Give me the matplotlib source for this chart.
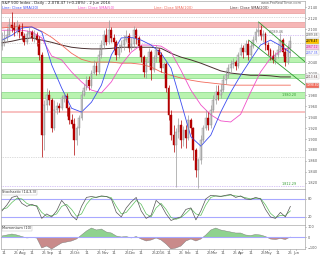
import matplotlib
matplotlib.use("Agg")
import matplotlib.pyplot as plt
import numpy as np
import pandas as pd

# one candle ~ two sessions, oldest first
first_open = 2070
close = [2076, 2084, 2089, 2107, 2102, 2098, 2105, 2095, 2087, 2076,
         2091, 2095, 2084, 2089, 2080, 2053, 1907, 1962, 1980, 1971,
         1920, 1953, 1960, 1956, 1975, 1978, 1956, 1935, 1927, 1898,
         1920, 1938, 1980, 1993, 2007, 1996, 2020, 2033, 2022, 2053,
         2071, 2089, 2076, 2098, 2084, 2076, 2053, 2065, 2071, 2080,
         2087, 2065, 2073, 2098, 2084, 2069, 2049, 2022, 2040, 2058,
         2025, 2047, 2062, 2053, 2029, 2036, 1993, 1944, 1907, 1889,
         1913, 1925, 1898, 1916, 1902, 1935, 1920, 1880, 1844, 1862,
         1898, 1920, 1938, 1925, 1953, 1971, 1985, 1980, 1989, 2007,
         2016, 2029, 2036, 2040, 2033, 2053, 2065, 2058, 2073, 2053,
         2069, 2080, 2095, 2098, 2087, 2091, 2071, 2062, 2051, 2044,
         2053, 2062, 2080, 2058, 2040, 2065, 2078]
high = [2095, 2098, 2102, 2120, 2131, 2113, 2116, 2109, 2111, 2093,
        2098, 2104, 2098, 2098, 2095, 2087, 2058, 1971, 1993, 1989,
        1975, 1971, 1967, 1965, 1980, 1984, 1984, 1960, 1945, 1938,
        1924, 1944, 1989, 2000, 2015, 2015, 2025, 2044, 2040, 2062,
        2080, 2098, 2102, 2116, 2104, 2091, 2080, 2073, 2080, 2089,
        2098, 2093, 2085, 2105, 2102, 2087, 2071, 2053, 2047, 2065,
        2062, 2053, 2071, 2065, 2058, 2040, 2040, 1998, 1953, 1925,
        1920, 1938, 1935, 1924, 1925, 1944, 1938, 1922, 1884, 1865,
        1907, 1925, 1953, 1949, 1962, 1980, 1998, 1998, 2000, 2016,
        2025, 2036, 2044, 2047, 2044, 2058, 2073, 2071, 2080, 2080,
        2076, 2087, 2102, 2113, 2107, 2098, 2095, 2076, 2065, 2062,
        2058, 2071, 2093, 2084, 2065, 2073, 2087]
low = [2062, 2069, 2076, 2087, 2095, 2087, 2091, 2084, 2080, 2071,
       2073, 2084, 2078, 2076, 2069, 2044, 1867, 1880, 1953, 1962,
       1913, 1916, 1945, 1949, 1953, 1967, 1942, 1927, 1920, 1871,
       1889, 1907, 1935, 1978, 1989, 1989, 1993, 2018, 2016, 2018,
       2047, 2065, 2071, 2073, 2076, 2062, 2044, 2047, 2058, 2062,
       2076, 2058, 2062, 2065, 2073, 2062, 2040, 2013, 2011, 2033,
       2007, 2022, 2040, 2040, 2022, 2011, 1985, 1935, 1898, 1876,
       1813, 1902, 1884, 1887, 1884, 1898, 1909, 1862, 1831, 1811,
       1855, 1894, 1916, 1916, 1920, 1949, 1964, 1971, 1975, 1985,
       2000, 2011, 2022, 2029, 2025, 2029, 2051, 2047, 2053, 2044,
       2047, 2065, 2076, 2087, 2080, 2076, 2062, 2053, 2044, 2038,
       2036, 2047, 2058, 2051, 2033, 2036, 2049]

# moving averages, read every 4th candle
sma20 = [2080, 2089, 2102, 2104, 2095, 2035, 1993, 1956, 1949, 1967,
         1998, 2053, 2084, 2085, 2080, 2071, 2056, 2029, 1967, 1904,
         1887, 1907, 1949, 1985, 2016, 2044, 2071, 2080, 2070, 2057]
sma50 = [2098, 2098, 2098, 2095, 2084, 2051, 2044, 2022, 2004, 1989,
         1984, 2004, 2035, 2058, 2071, 2071, 2069, 2058, 2025, 1989,
         1962, 1944, 1933, 1931, 1945, 1985, 2022, 2047, 2060, 2067]
sma100 = [2102, 2104, 2105, 2104, 2096, 2085, 2071, 2056, 2045, 2040,
          2040, 2040, 2038, 2038, 2036, 2031, 2022, 2016, 2011, 2007,
          2004, 2002, 2000, 1998, 1998, 1998, 1998, 1998, 1998, 1998]
sma200 = [2075, 2078, 2082, 2084, 2080, 2076, 2071, 2067, 2065, 2064,
          2064, 2065, 2067, 2067, 2067, 2067, 2065, 2056, 2049, 2044,
          2038, 2031, 2024, 2020, 2018, 2016, 2016, 2015, 2013, 2013]

# oscillators, read every 2nd candle
stoch_k = [40, 60, 85, 90, 65, 55, 62, 55, 15, 30, 20, 40, 75, 55, 25, 10, 55, 85, 88, 85,
           90, 88, 80, 35, 20, 50, 70, 85, 40, 15, 25, 75, 60, 30, 8, 15, 20, 45, 50, 10,
           40, 80, 92, 90, 88, 92, 95, 85, 90, 80, 78, 85, 80, 45, 20, 15, 35, 20, 55]
stoch_d = [45, 50, 68, 82, 80, 65, 58, 58, 35, 22, 24, 30, 55, 62, 45, 22, 30, 62, 82, 86,
           88, 88, 84, 55, 30, 35, 55, 75, 62, 30, 20, 50, 65, 45, 18, 12, 18, 32, 48, 30,
           25, 60, 85, 90, 89, 90, 93, 90, 88, 84, 80, 82, 82, 60, 32, 18, 25, 25, 40]
momentum = [10, 20, 30, 20, 5, -10, -5, -10, -110, -90, -120, -90, -60, -50, -40, -20, 20, 60, 90, 70,
            80, 50, 40, 10, 0, 5, -10, 5, -20, -40, -30, -10, -30, -70, -120, -110, -90, -40, -20, -40,
            -20, 20, 70, 90, 70, 60, 50, 40, 40, 20, 15, 25, 20, 5, -20, -25, -15, -25, 0]

res_zones = [(2129, 2136), (2104, 2113)]
sup_zones = [(2040, 2049), (2011, 2018), (1975, 1985)]
thin_zone = (1947.5, 1950.5)
grey_levels = [2122, 2075, 1867]
violet_levels = [2089, 1815]
channel_upper = ([103.2, 122], [2113, 2040])
channel_lower = ([99.2, 122], [2080, 1998])

price_ticks = [1820, 1840, 1860, 1880, 1900, 1920, 1940, 1960, 1980,
               2020, 2040, 2100, 2120, 2140]

title = "S&P 500 Index - Daily - 2,078.47 (+0.28%) - 2 Jun 2016"


def day_to_x(d):
    return -2.8 + 0.3607 * (d - pd.Timestamp("2015-07-01")).days


o = np.array([first_open] + close[:-1], dtype=float)
c = np.array(close, dtype=float)
h = np.array(high, dtype=float)
l = np.array(low, dtype=float)
x = np.arange(len(c))
up = c >= o
ma_x = np.arange(0, len(c), 4)
osc_x = np.arange(0, len(c), 2)

fig = plt.figure(figsize=(3.2, 2.56), dpi=100)
W = 0.951
ax = fig.add_axes([0.003, 0.2617, W, 0.734])
ax_s = fig.add_axes([0.003, 0.1211, W, 0.1406], sharex=ax)
ax_m = fig.add_axes([0.003, 0.0273, W, 0.0938], sharex=ax)

for a in (ax, ax_s, ax_m):
    a.yaxis.tick_right()
    a.tick_params(labelsize=2.5, length=1, width=0.4, pad=0.6, colors="#555555")
    for s in a.spines.values():
        s.set_color("#aaaaaa")
        s.set_linewidth(0.5)

# zones and levels
for lo_, hi_ in res_zones:
    ax.axhspan(lo_, hi_, facecolor="#f6b6b6", edgecolor="#e38b8b", lw=0.4)
for lo_, hi_ in sup_zones:
    ax.axhspan(lo_, hi_, facecolor="#b9f3b0", edgecolor="#6dcf6d", lw=0.4)
ax.axhspan(*thin_zone, facecolor="#f8c2c2", edgecolor="none")
for lv in grey_levels:
    ax.axhline(lv, color="#bbbbbb", ls=(0, (1, 1.5)), lw=0.5)
for lv in violet_levels:
    ax.axhline(lv, color="#b48cf0", ls=(0, (1, 1.5)), lw=0.5)

# moving averages
ax.plot(ma_x, sma200, color="#4a3030", lw=0.7)
ax.plot(ma_x, sma100, color="#f26a5a", lw=0.6)
ax.plot(ma_x, sma50, color="#f050c8", lw=0.6)
ax.plot(ma_x, sma20, color="#3d4df0", lw=0.6)

# candles
ax.vlines(x, l, h, colors=np.where(up, "#9a9a9a", "#b00000"), lw=0.5)
ax.bar(x, np.maximum(np.abs(c - o), 0.8), bottom=np.minimum(o, c), width=0.75,
       color=np.where(up, "#dcdcdc", "#b80000"),
       edgecolor=np.where(up, "#8c8c8c", "#b00000"), linewidth=0.3)

ax.plot(*channel_upper, color="#2f9a2f", lw=0.6)
ax.plot(*channel_lower, color="#2f9a2f", lw=0.6)

ax.set_ylim(1809, 2151)
ax.set_yticks(price_ticks)
ax.set_yticklabels([f"{v:,}" for v in price_ticks])
ax.tick_params(labelbottom=False, bottom=False)

# header
ax.text(0.004, 0.998, title, transform=ax.transAxes, fontsize=2.8, va="top", color="#222222")
ax.text(0.99, 0.998, "www.ProRealTime.com", transform=ax.transAxes, fontsize=2.6,
        va="top", ha="right", color="#666666")
heads = [("Close SMA(20)", "#3d4df0"), ("Close SMA(50)", "#f050c8"),
         ("Close SMA(100)", "#f26a5a"), ("Close SMA(200)", "#4a3030")]
for k, (t, col) in enumerate(heads):
    ax.text(0.004 + k * 0.25, 0.975, "Line: " + t, transform=ax.transAxes, fontsize=2.6,
            va="top", color=col)

# value tags on the right axis
yt = ax.get_yaxis_transform()
tags = [(2089, "2089.46", "white", "#555555"),
        (close[-1], f"{close[-1]}.47", "#ffc400", "black"),
        (sma50[-1], f"{sma50[-1]}.12", "#f8c6ec", "#d0209a"),
        (sma20[-1], f"{sma20[-1]}.35", "white", "#3d4df0"),
        (sma200[-1], f"{sma200[-1]}.64", "white", "#4a3030"),
        (sma100[-1], f"{sma100[-1]}.80", "#f26a5a", "white")]
for v, t, bg, fg in tags:
    ax.text(1.003, v, t, transform=yt, fontsize=2.2, va="center", color=fg,
            bbox=dict(facecolor=bg, edgecolor="#bbbbbb", lw=0.3, pad=0.35))
ax.text(0.97, 1980, "1,980.20", transform=yt, fontsize=2.4, ha="right", va="center", color="#2f9a2f")
ax.text(0.93, 2092, "2,089.46", transform=yt, fontsize=2.4, ha="right", va="bottom", color="#666666")
ax.text(0.97, 1815, "1,812.29", transform=yt, fontsize=2.4, ha="right", va="bottom", color="#2f9a2f")

# stochastic
ax_s.axhline(80, color="#a8a8ff", lw=0.8)
ax_s.axhline(20, color="#a8a8ff", lw=0.8)
ax_s.plot(osc_x, stoch_d, color="#5cbf5c", lw=0.5)
ax_s.plot(osc_x, stoch_k, color="#555555", lw=0.5)
ax_s.set_ylim(-7, 113)
ax_s.set_yticks([20, 80])
ax_s.tick_params(labelbottom=False, bottom=False)
ax_s.text(0.004, 0.97, "Stochastic (14,3,3)", transform=ax_s.transAxes, fontsize=2.6, va="top",
          color="#333333", bbox=dict(facecolor="white", edgecolor="#bbbbbb", lw=0.3, pad=0.4))

# momentum
mom = np.array(momentum, dtype=float)
ax_m.fill_between(osc_x, mom, 0, where=mom >= 0, interpolate=True, color="#8fd28f", lw=0)
ax_m.fill_between(osc_x, mom, 0, where=mom < 0, interpolate=True, color="#c98a8a", lw=0)
ax_m.plot(osc_x, mom, color="#777777", lw=0.3)
ax_m.axhline(0, color="#a8a8ff", lw=0.8)
ax_m.set_ylim(-120, 120)
ax_m.set_yticks([-100, 0, 100])
ax_m.text(0.004, 0.95, "Momentum (10)", transform=ax_m.transAxes, fontsize=2.6, va="top",
          color="#333333", bbox=dict(facecolor="white", edgecolor="#bbbbbb", lw=0.3, pad=0.4))

# date ticks
tick_pos, tick_lab = [], []
for m in pd.date_range("2015-07-01", "2016-06-01", freq="MS"):
    for day in (1, 11, 25):
        d = m + pd.Timedelta(days=day - 1)
        xv = day_to_x(d)
        if xv < 0 or xv > 121:
            continue
        tick_pos.append(xv)
        if day == 1:
            tick_lab.append("2016" if m.month == 1 else m.strftime("%b"))
        else:
            tick_lab.append(str(day))
ax_m.set_xticks(tick_pos)
ax_m.set_xticklabels(tick_lab)
ax_m.tick_params(axis="x", labelsize=2.7)
ax_m.set_xlim(-0.4, 122)

fig.savefig("out.png", dpi=100)
